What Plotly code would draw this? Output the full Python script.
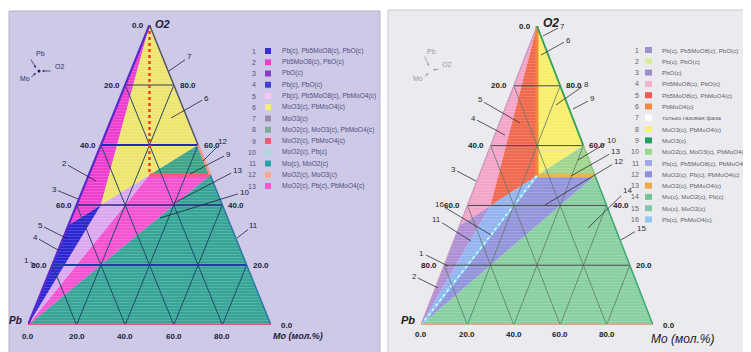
import plotly.graph_objects as go

FIG_W, FIG_H = 751, 352

# ---------------- data: compositions (mole fractions) ----------------
compounds = ["O2", "Pb", "Mo", "PbO", "Pb5MoO8", "PbMoO4", "MoO3", "MoO2"]
o2_share = [1.0, 0.0, 0.0, 0.333, 0.4, 0.5, 0.6, 0.5]
mo_share = [0.0, 0.0, 1.0, 0.0, 0.1, 0.25, 0.4, 0.5]

# phase fields (polygons by compound vertices)
left_regions = [
    ["Pb", "Mo", "MoO2"],
    ["Pb", "MoO2", "PbMoO4"],
    ["Pb", "PbMoO4", "Pb5MoO8"],
    ["Pb", "Pb5MoO8", "PbO"],
    ["PbO", "Pb5MoO8", "O2"],
    ["O2", "Pb5MoO8", "PbMoO4", "MoO3"],
    ["MoO3", "PbMoO4", "MoO2"],
]
left_region_colors = ["#36a596", "#f552d2", "#dba8ef", "#2c26d2", "#ee3ecf", "#ede56e", "#3ea487"]

right_regions = [
    ["Pb", "Mo", "MoO2"],
    ["Pb", "MoO2", "PbMoO4"],
    ["Pb", "PbMoO4", "Pb5MoO8"],
    ["Pb", "Pb5MoO8", "PbO"],
    ["PbO", "Pb5MoO8", "O2"],
    ["O2", "Pb5MoO8", "PbMoO4"],
    ["O2", "PbMoO4", "MoO3"],
    ["MoO3", "PbMoO4", "MoO2"],
]
right_region_colors = ["#88cfa2", "#9294dc", "#94b4f0", "#ae90d4", "#f3a4c8", "#f0684e", "#f8ee6c", "#a2d68e"]

grid_levels = [0.2, 0.4, 0.6, 0.8]
tick_labels = ["0.0", "20.0", "40.0", "60.0", "80.0"]

left_legend = ["Pb(c), Pb5MoO8(c), PbO(c)", "Pb5MoO8(c), PbO(c)", "PbO(c)", "Pb(c), PbO(c)",
               "Pb(c), Pb5MoO8(c), PbMoO4(c)", "MoO3(c), PbMoO4(c)", "MoO3(c)",
               "MoO2(c), MoO3(c), PbMoO4(c)", "MoO2(c), PbMoO4(c)", "MoO2(c), Pb(c)",
               "Mo(c), MoO2(c)", "MoO2(c), MoO3(c)", "MoO2(c), Pb(c), PbMoO4(c)"]
left_legend_colors = ["#3b2fd0", "#f040c8", "#8a3cc8", "#4040d8", "#f5c8f5", "#f5f07a", "#9a8ab0",
                      "#7faa98", "#f55a70", "#a8dada", "#2aa0a8", "#f8a890", "#f55ad0"]

right_legend = ["Pb(c), Pb5MoO8(c), PbO(c)", "Pb(c), PbO(c)", "PbO(c)", "Pb5MoO8(c), PbO(c)",
                "Pb5MoO8(c), PbMoO4(c)", "PbMoO4(c)", "только газовая фаза", "MoO3(c), PbMoO4(c)",
                "MoO3(c)", "MoO2(c), MoO3(c), PbMoO4(c)", "Pb(c), Pb5MoO8(c), PbMoO4(c)",
                "MoO2(c), Pb(c), PbMoO4(c)", "MoO2(c), PbMoO4(c)", "Mo(c), MoO2(c), Pb(c)",
                "Mo(c), MoO2(c)", "Pb(c), PbMoO4(c)"]
right_legend_colors = ["#a090c8", "#d8ec98", "#a08cc8", "#f5b0cc", "#f05a50", "#f08a40", "#ffffff",
                       "#f8f070", "#20a060", "#98d888", "#a0a8e8", "#8c90d8", "#f0a840", "#70c898",
                       "#80c8a8", "#90c8f0"]

# leader labels: (text, text px x, y, tip px x, y)
left_callouts = [("7", 181, 49, 161, 63), ("6", 198, 90, 163, 110), ("12", 214, 134, 195, 153),
                 ("9", 220, 146, 182, 166), ("13", 229, 162, 166, 195), ("10", 236, 184, 152, 210),
                 ("11", 246, 217, 229, 230), ("2", 56, 155, 88, 173), ("3", 46, 181, 70, 191),
                 ("5", 32, 217, 60, 231), ("4", 27, 229, 50, 242), ("1", 18, 252, 28, 257)]
right_callouts = [("7", 554, 18, 535, 28), ("6", 560, 32, 533, 47), ("5", 472, 92, 512, 115),
                  ("4", 465, 110, 497, 127), ("8", 578, 76, 548, 97), ("9", 584, 91, 565, 101),
                  ("3", 445, 161, 468, 173), ("10", 603, 132, 570, 152), ("13", 607, 143, 563, 168),
                  ("12", 610, 153, 537, 197), ("16", 431, 196, 483, 227), ("11", 428, 211, 463, 233),
                  ("14", 619, 182, 580, 220), ("15", 633, 220, 613, 232), ("1", 414, 245, 440, 258),
                  ("2", 406, 268, 430, 280)]

# ---------------- helpers ----------------
comp = {n: (o, m) for n, o, m in zip(compounds, o2_share, mo_share)}


def to_xy(o2, mo):
    return mo + o2 / 2.0, o2


def poly(names):
    xs, ys = [], []
    for n in names + [names[0]]:
        x, y = to_xy(*comp[n])
        xs.append(x)
        ys.append(y)
    return xs, ys


def seg(a, b):
    x0, y0 = to_xy(*a)
    x1, y1 = to_xy(*b)
    return [x0, x1], [y0, y1]


def pp(x, y):
    return x / FIG_W, 1 - y / FIG_H


fig = go.Figure()


def add_line(xs, ys, color, width, ax, dash="solid"):
    fig.add_trace(go.Scatter(x=xs, y=ys, mode="lines", line=dict(color=color, width=width, dash=dash),
                             xaxis=ax[0], yaxis=ax[1], hoverinfo="skip", cliponaxis=False,
                             showlegend=False))


def lighten(hexc, f):
    h = hexc.lstrip("#")
    r, g, b = int(h[0:2], 16), int(h[2:4], 16), int(h[4:6], 16)
    r, g, b = [int(c + (255 - c) * f) for c in (r, g, b)]
    return "#%02x%02x%02x" % (r, g, b)


def add_fields(regions, colors, ax, stripe):
    for names, col in zip(regions, colors):
        xs, ys = poly(names)
        fig.add_trace(go.Scatter(x=xs, y=ys, mode="lines", fill="toself", fillcolor=col,
                                 fillpattern=dict(shape="-", bgcolor=col, fgcolor=lighten(col, stripe),
                                                  size=3, solidity=0.35),
                                 line=dict(width=0, color=col), xaxis=ax[0], yaxis=ax[1],
                                 hoverinfo="skip", showlegend=False, cliponaxis=False))


def add_grid(ax, hstyles, slant_color, slant_w):
    for k in grid_levels:
        xs, ys = seg((0, k), (1 - k, k))
        add_line(xs, ys, slant_color, slant_w, ax)  # constant Pb
        xs, ys = seg((1 - k, 0), (0, 1 - k))
        add_line(xs, ys, slant_color, slant_w, ax)  # constant Mo
    for k in grid_levels:
        col, w = hstyles[k]
        xs, ys = seg((k, 0), (k, 1 - k))
        add_line(xs, ys, col, w, ax)


LA = ("x", "y")
RA = ("x2", "y2")

# ---------------- left diagram ----------------
add_fields(left_regions, left_region_colors, LA, 0.3)
xs, ys = seg(comp["PbMoO4"], comp["MoO2"])
add_line(xs, ys, "#ff5a78", 3.5, LA)
add_grid(LA, {0.8: ("#3a3a55", 1), 0.6: ("#2626b4", 2.2), 0.4: ("#262a86", 1.3), 0.2: ("#1e3ca0", 2.2)},
         "#1f4a6a", 1)
xs, ys = seg(comp["O2"], comp["PbMoO4"])
add_line(xs, ys, "#e8401c", 2.5, LA, dash="dot")
for a, b, col, w in [("Pb", "O2", "#5a28cc", 2.2), ("O2", "MoO3", "#55556a", 1.5),
                     ("MoO3", "MoO2", "#f59a88", 2.5), ("MoO2", "Mo", "#2a78a8", 1.5),
                     ("Pb", "Mo", "#e05a78", 1.8)]:
    xs, ys = seg(comp[a], comp[b])
    add_line(xs, ys, col, w, LA)

# ---------------- right diagram ----------------
add_fields(right_regions, right_region_colors, RA, 0.28)
xs, ys = seg(comp["PbMoO4"], comp["MoO2"])
add_line(xs, ys, "#f5b24a", 3.5, RA)
xs, ys = seg(comp["Pb"], comp["PbMoO4"])
add_line(xs, ys, "#86c8f4", 3, RA)
add_line(xs, ys, "#ffffff", 1.2, RA, dash="dot")
xs, ys = seg(comp["O2"], comp["PbMoO4"])
add_line(xs, ys, "#f08a3a", 3, RA)
add_grid(RA, {k: ("#4a4a4a", 1) for k in grid_levels}, "#5e7a66", 0.8)
for a, b, col, w in [("Pb", "O2", "#c497bd", 1.2), ("O2", "MoO3", "#2ea05a", 1.8),
                     ("MoO3", "MoO2", "#86c878", 1.5), ("MoO2", "Mo", "#3aa870", 1.5),
                     ("Pb", "Mo", "#d4b078", 2)]:
    xs, ys = seg(comp[a], comp[b])
    add_line(xs, ys, col, w, RA)

# ---------------- layout ----------------
shapes = [
    dict(type="rect", xref="paper", yref="paper", x0=pp(1, 0)[0], x1=pp(372, 0)[0],
         y0=pp(0, 349)[1], y1=pp(0, 3)[1], fillcolor="#cdc9e6", line=dict(color="#b4b2c8", width=1),
         layer="below"),
    dict(type="rect", xref="paper", yref="paper", x0=pp(380, 0)[0], x1=pp(750, 0)[0],
         y0=pp(0, 350)[1], y1=pp(0, 2)[1], fillcolor="#ebebef", line=dict(color="#c8c8ce", width=1),
         layer="below"),
]
ann = []
FONT = "Liberation Sans, Arial"


def text(x, y, s, size=8, color="#202030", bold=False, italic=False, xanchor="center",
         yanchor="middle", family=FONT):
    px, py = pp(x, y)
    t = s
    if bold:
        t = "<b>" + t + "</b>"
    if italic:
        t = "<i>" + t + "</i>"
    ann.append(dict(x=px, y=py, xref="paper", yref="paper", text=t, showarrow=False,
                    xanchor=xanchor, yanchor=yanchor, font=dict(size=size, color=color, family=family)))


def callout(s, tx, ty, x, y, color, lc, size=8):
    px, py = pp(x, y)
    ann.append(dict(x=px, y=py, xref="paper", yref="paper", text=s, showarrow=True, arrowhead=0,
                    arrowwidth=0.8, arrowcolor=lc, ax=tx - x, ay=ty - y, standoff=0,
                    font=dict(size=size, color=color, family=FONT)))


def ticks(tri, color, sl, sr, sb):
    # tri: (x_left, x_right, y_bottom, y_top) in pixels
    xl, xr, yb, yt = tri
    wdt, hgt = xr - xl, yb - yt

    def pix(o2, mo):
        x, y = to_xy(o2, mo)
        return xl + wdt * x, yb - hgt * y
    x, y = pix(1, 0)
    text(x - 4, y, tick_labels[0], color=color, bold=True, xanchor="right")
    for i, k in enumerate(grid_levels):
        x, y = pix(1 - k, 0)
        text(x + sl, y, tick_labels[i + 1], color=color, bold=True, xanchor="right")
        x, y = pix(k, 1 - k)
        text(x + sr, y, tick_labels[i + 1], color=color, bold=True, xanchor="left")
    x, y = pix(0, 1)
    text(x + sr + 4, y, tick_labels[0], color=color, bold=True, xanchor="left")
    for i in range(5):
        x, y = pix(0, i / 5)
        text(x, y + sb, tick_labels[i], color=color, bold=True, yanchor="top")


# left texts
ticks((20, 263, 317, 17), "#202040", -3, 4, 5)
text(145, 16, "O2", size=11, color="#202040", bold=True, italic=True, xanchor="left")
text(16, 312, "Pb", size=10, color="#202040", bold=True, italic=True, xanchor="right")
text(263, 328, "Mo (мол.%)", size=9, color="#202040", bold=True, italic=True, xanchor="left")
for s, tx_, ty_, x, y in left_callouts:
    callout(s, tx_, ty_, x, y, "#202040", "#202040")
# left compass
text(32, 46, "Pb", size=7, color="#303070")
text(51, 58, "O2", size=7, color="#303070")
text(17, 71, "Mo", size=7, color="#303070")
for (x0, y0, x1, y1) in [(22, 50, 28, 60), (44, 63, 34, 63), (22, 70, 28, 65)]:
    a, b = pp(x1, y1)
    ann.append(dict(x=a, y=b, xref="paper", yref="paper", text="", showarrow=True, arrowhead=2,
                    arrowsize=0.6, arrowwidth=0.8, arrowcolor="#303070", ax=x0 - x1, ay=y0 - y1))
a, b = pp(31, 63)
shapes.append(dict(type="circle", xref="paper", yref="paper", x0=a - 1.5 / FIG_W, x1=a + 1.5 / FIG_W,
                   y0=b - 1.5 / FIG_H, y1=b + 1.5 / FIG_H, fillcolor="#202060", line=dict(width=0)))

# right texts
ticks((413, 645, 317, 18), "#202020", -5, 4, 3)
text(533, 15, "O2", size=12, color="#202020", bold=True, italic=True, xanchor="left")
text(409, 312, "Pb", size=11, color="#202020", bold=True, italic=True, xanchor="right")
text(641, 331, "Mo (мол.%)", size=12, color="#202020", italic=True, xanchor="left")
for s, tx_, ty_, x, y in right_callouts:
    callout(s, tx_, ty_, x, y, "#303030", "#303030")
text(423, 43, "Pb", size=7, color="#9898a0")
text(438, 57, "O2", size=7, color="#9898a0")
text(410, 70, "Mo", size=7, color="#9898a0")
for (x0, y0, x1, y1) in [(416, 47, 421, 58), (432, 61, 425, 62), (416, 70, 420, 65)]:
    a, b = pp(x1, y1)
    ann.append(dict(x=a, y=b, xref="paper", yref="paper", text="", showarrow=True, arrowhead=2,
                    arrowsize=0.6, arrowwidth=0.8, arrowcolor="#9898a0", ax=x0 - x1, ay=y0 - y1))

# legends
for i, (lab, col) in enumerate(zip(left_legend, left_legend_colors)):
    y = 43 + 11.25 * i
    text(250, y, str(i + 1), size=7, color="#505080", xanchor="right")
    a0, b0 = pp(257, y - 3)
    a1, b1 = pp(263, y + 3)
    shapes.append(dict(type="rect", xref="paper", yref="paper", x0=a0, x1=a1, y0=b1, y1=b0,
                       fillcolor=col, line=dict(width=0)))
    text(272, y, lab, size=6.6, color="#505080", xanchor="left")

for i, (lab, col) in enumerate(zip(right_legend, right_legend_colors)):
    y = 42 + 11.3 * i
    text(633, y, str(i + 1), size=7, color="#606068", xanchor="right")
    a0, b0 = pp(637, y - 3)
    a1, b1 = pp(644, y + 3)
    shapes.append(dict(type="rect", xref="paper", yref="paper", x0=a0, x1=a1, y0=b1, y1=b0,
                       fillcolor=col, line=dict(width=0)))
    text(652, y, lab, size=6.2, color="#606068", xanchor="left")

ax_common = dict(visible=False, range=[0, 1], fixedrange=True)
fig.update_layout(
    width=FIG_W, height=FIG_H, margin=dict(l=0, r=0, t=0, b=0, pad=0),
    paper_bgcolor="white", plot_bgcolor="rgba(0,0,0,0)", showlegend=False,
    xaxis=dict(domain=[20 / FIG_W, 263 / FIG_W], anchor="y", **ax_common),
    yaxis=dict(domain=[1 - 317 / FIG_H, 1 - 17 / FIG_H], anchor="x", **ax_common),
    xaxis2=dict(domain=[413 / FIG_W, 645 / FIG_W], anchor="y2", **ax_common),
    yaxis2=dict(domain=[1 - 317 / FIG_H, 1 - 18 / FIG_H], anchor="x2", **ax_common),
    shapes=shapes, annotations=ann,
)

fig.write_html("out.html")
